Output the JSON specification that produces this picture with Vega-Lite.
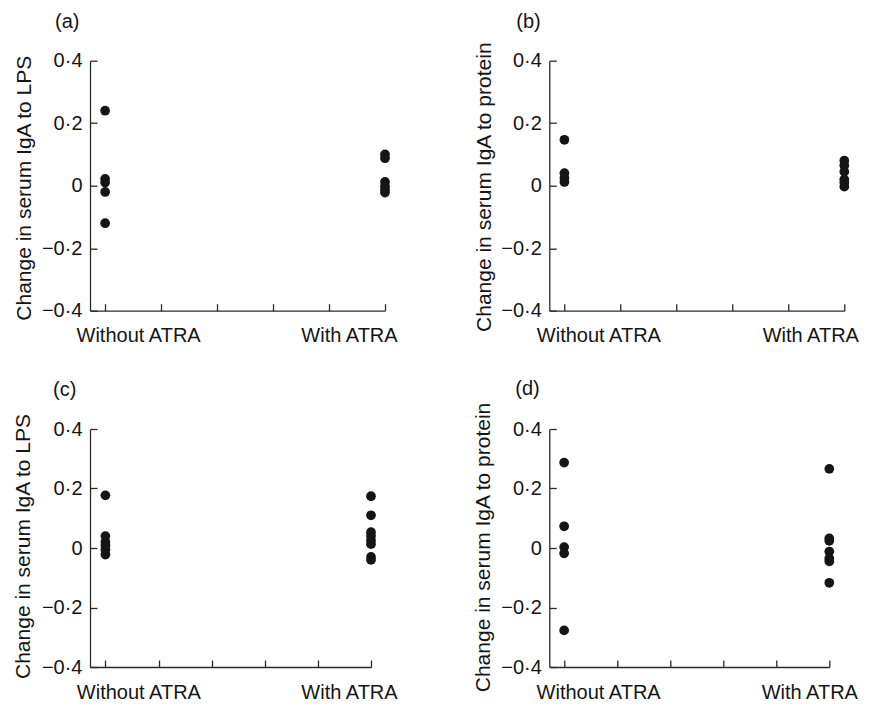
{
  "$schema": "https://vega.github.io/schema/vega-lite/v6.json",
  "autosize": {"type": "none"},
  "padding": {"left": 90, "top": 60.7, "right": 779, "bottom": 645.3},
  "background": "white",
  "data": {"values": [
    {"panel": "a", "atra": 0, "value": 0.24},
    {"panel": "a", "atra": 0, "value": 0.022},
    {"panel": "a", "atra": 0, "value": 0.01},
    {"panel": "a", "atra": 0, "value": -0.02},
    {"panel": "a", "atra": 0, "value": -0.12},
    {"panel": "a", "atra": 1, "value": 0.1},
    {"panel": "a", "atra": 1, "value": 0.088},
    {"panel": "a", "atra": 1, "value": 0.012},
    {"panel": "a", "atra": 1, "value": -0.002},
    {"panel": "a", "atra": 1, "value": -0.013},
    {"panel": "a", "atra": 1, "value": -0.022},
    {"panel": "b", "atra": 0, "value": 0.147},
    {"panel": "b", "atra": 0, "value": 0.04},
    {"panel": "b", "atra": 0, "value": 0.025},
    {"panel": "b", "atra": 0, "value": 0.012},
    {"panel": "b", "atra": 1, "value": 0.08},
    {"panel": "b", "atra": 1, "value": 0.065},
    {"panel": "b", "atra": 1, "value": 0.045},
    {"panel": "b", "atra": 1, "value": 0.02},
    {"panel": "b", "atra": 1, "value": 0.01},
    {"panel": "b", "atra": 1, "value": -0.003},
    {"panel": "c", "atra": 0, "value": 0.177},
    {"panel": "c", "atra": 0, "value": 0.04},
    {"panel": "c", "atra": 0, "value": 0.02},
    {"panel": "c", "atra": 0, "value": 0.008},
    {"panel": "c", "atra": 0, "value": -0.005},
    {"panel": "c", "atra": 0, "value": -0.022},
    {"panel": "c", "atra": 1, "value": 0.174},
    {"panel": "c", "atra": 1, "value": 0.11},
    {"panel": "c", "atra": 1, "value": 0.053},
    {"panel": "c", "atra": 1, "value": 0.04},
    {"panel": "c", "atra": 1, "value": 0.025},
    {"panel": "c", "atra": 1, "value": 0.013},
    {"panel": "c", "atra": 1, "value": -0.03},
    {"panel": "c", "atra": 1, "value": -0.04},
    {"panel": "d", "atra": 0, "value": 0.287},
    {"panel": "d", "atra": 0, "value": 0.073},
    {"panel": "d", "atra": 0, "value": 0.003},
    {"panel": "d", "atra": 0, "value": -0.018},
    {"panel": "d", "atra": 0, "value": -0.277},
    {"panel": "d", "atra": 1, "value": 0.266},
    {"panel": "d", "atra": 1, "value": 0.032},
    {"panel": "d", "atra": 1, "value": 0.024},
    {"panel": "d", "atra": 1, "value": -0.012},
    {"panel": "d", "atra": 1, "value": -0.035},
    {"panel": "d", "atra": 1, "value": -0.045},
    {"panel": "d", "atra": 1, "value": -0.117}
  ]},
  "columns": 2,
  "bounds": "flush",
  "spacing": {"row": 118.3, "column": 164.3},
  "concat": [
    {
      "width": 295, "height": 250,
      "title": {"text": "(a)", "dx": -35, "offset": 19},
      "transform": [{"filter": "datum.panel == 'a'"}],
      "mark": {"type": "circle", "size": 95, "opacity": 1, "color": "#151515"},
      "encoding": {
        "x": {"field": "atra", "type": "quantitative", "scale": {"domain": [-0.054, 1]},
          "axis": {"title": null, "values": [0, 0.2, 0.4, 0.6, 0.8, 1],
            "labelExpr": "datum.value == 0 ? 'Without ATRA' : datum.value == 1 ? 'With ATRA' : ''",
            "labelOffset": {"condition": {"test": "datum.value == 0", "value": 33}, "value": -36}}},
        "y": {"field": "value", "type": "quantitative", "scale": {"domain": [-0.4, 0.4]},
          "axis": {"title": "Change in serum IgA to LPS", "titleX": -66, "titleY": 127, "values": [-0.4, -0.2, 0, 0.2, 0.4]}}
      }
    },
    {
      "width": 295, "height": 250,
      "title": {"text": "(b)", "dx": -33, "offset": 9},
      "transform": [{"filter": "datum.panel == 'b'"}],
      "mark": {"type": "circle", "size": 95, "opacity": 1, "color": "#151515"},
      "encoding": {
        "x": {"field": "atra", "type": "quantitative", "scale": {"domain": [-0.054, 1]},
          "axis": {"title": null, "values": [0, 0.2, 0.4, 0.6, 0.8, 1],
            "labelExpr": "datum.value == 0 ? 'Without ATRA' : datum.value == 1 ? 'With ATRA' : ''",
            "labelOffset": {"condition": {"test": "datum.value == 0", "value": 34}, "value": -34}}},
        "y": {"field": "value", "type": "quantitative", "scale": {"domain": [-0.4, 0.4]},
          "axis": {"title": "Change in serum IgA to protein", "titleX": -65, "titleY": 126, "values": [-0.4, -0.2, 0, 0.2, 0.4]}}
      }
    },
    {
      "width": 281, "height": 238,
      "title": {"text": "(c)", "dx": -37, "offset": 13},
      "transform": [{"filter": "datum.panel == 'c'"}],
      "mark": {"type": "circle", "size": 95, "opacity": 1, "color": "#151515"},
      "encoding": {
        "x": {"field": "atra", "type": "quantitative", "scale": {"domain": [-0.058, 1]},
          "axis": {"title": null, "values": [0, 0.2, 0.4, 0.6, 0.8, 1],
            "labelExpr": "datum.value == 0 ? 'Without ATRA' : datum.value == 1 ? 'With ATRA' : ''",
            "labelOffset": {"condition": {"test": "datum.value == 0", "value": 33}, "value": -22}}},
        "y": {"field": "value", "type": "quantitative", "scale": {"domain": [-0.4, 0.4]},
          "axis": {"title": "Change in serum IgA to LPS", "titleX": -67, "titleY": 117, "values": [-0.4, -0.2, 0, 0.2, 0.4]}}
      }
    },
    {
      "width": 280, "height": 238,
      "title": {"text": "(d)", "dx": -34, "offset": 3},
      "transform": [{"filter": "datum.panel == 'd'"}],
      "mark": {"type": "circle", "size": 95, "opacity": 1, "color": "#151515"},
      "encoding": {
        "x": {"field": "atra", "type": "quantitative", "scale": {"domain": [-0.056, 1]},
          "axis": {"title": null, "values": [0, 0.2, 0.4, 0.6, 0.8, 1],
            "labelExpr": "datum.value == 0 ? 'Without ATRA' : datum.value == 1 ? 'With ATRA' : ''",
            "labelOffset": {"condition": {"test": "datum.value == 0", "value": 34}, "value": -20}}},
        "y": {"field": "value", "type": "quantitative", "scale": {"domain": [-0.4, 0.4]},
          "axis": {"title": "Change in serum IgA to protein", "titleX": -66, "titleY": 118, "values": [-0.4, -0.2, 0, 0.2, 0.4]}}
      }
    }
  ],
  "config": {
    "view": {"stroke": null},
    "font": "Liberation Sans",
    "axis": {
      "grid": false,
      "domainColor": "#2a2a2a",
      "tickColor": "#2a2a2a",
      "domainWidth": 1.3,
      "tickWidth": 1.3,
      "tickSize": -7,
      "labelColor": "#151515",
      "titleColor": "#151515",
      "labelFont": "Liberation Sans",
      "titleFont": "Liberation Sans",
      "labelFontSize": 20,
      "titleFontSize": 21,
      "titleFontWeight": "normal",
      "labelOverlap": false,
      "labelFlush": false
    },
    "axisX": {"labelPadding": 22, "labelAlign": "center", "labelBaseline": "top"},
    "axisY": {
      "labelPadding": 15,
      "labelExpr": "datum.value == 0 ? '0' : replace(format(datum.value, '.1f'), '.', '·')",
      "titleAngle": -90,
      "titleBaseline": "middle",
      "titleAlign": "center"
    },
    "title": {"fontSize": 20, "fontWeight": "normal", "anchor": "start", "frame": "group", "color": "#151515", "font": "Liberation Sans", "baseline": "alphabetic"}
  }
}
